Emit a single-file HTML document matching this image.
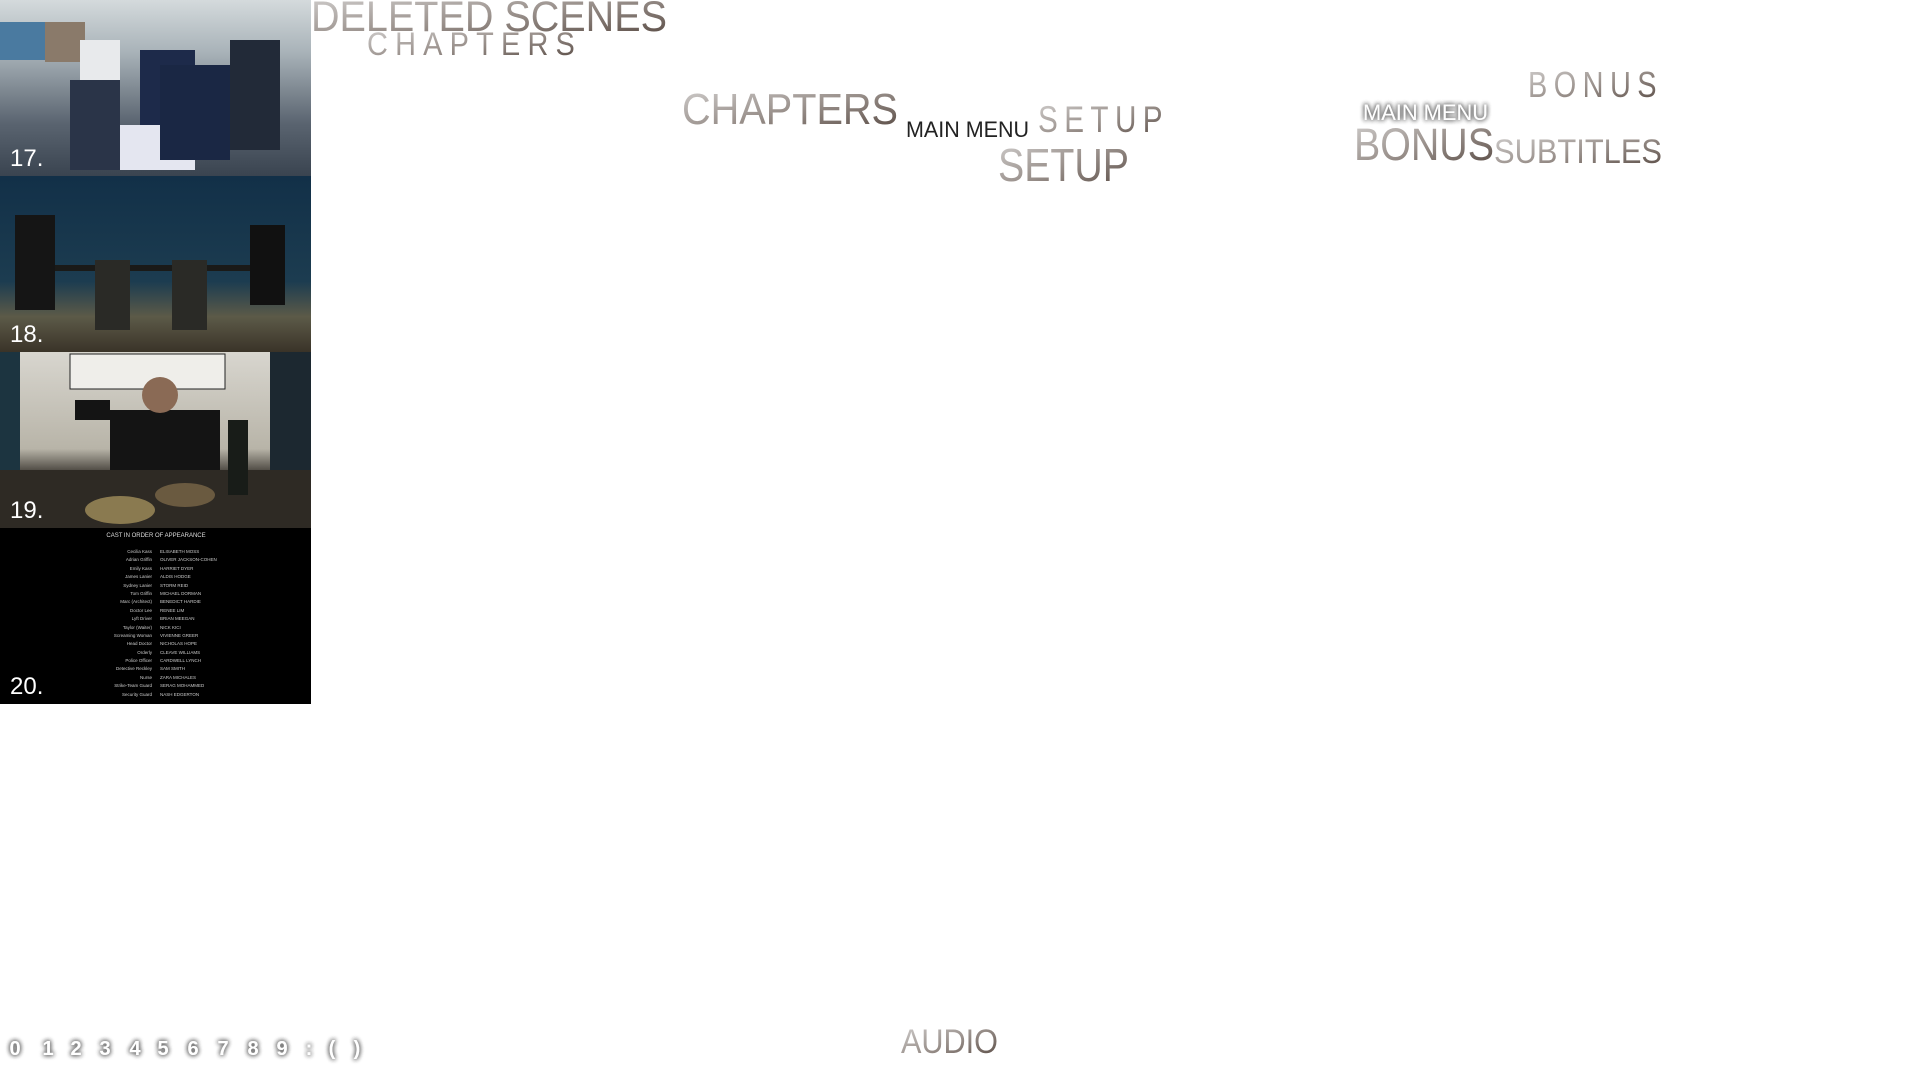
<!DOCTYPE html>
<html><head><meta charset="utf-8"><style>
html,body{margin:0;padding:0;background:#fff;width:1919px;height:1079px;overflow:hidden}
svg{position:absolute;left:0;top:0}
text{font-family:"Liberation Sans",sans-serif}
</style></head><body>
<svg width="1919" height="1079" viewBox="0 0 1919 1079" xmlns="http://www.w3.org/2000/svg">
<defs>
<linearGradient id="g" x1="0" y1="0" x2="1" y2="1">
<stop offset="0" stop-color="#d2d0cf"/><stop offset="0.5" stop-color="#9a918c"/><stop offset="1" stop-color="#54463f"/>
</linearGradient>
<filter id="glow" x="-20%" y="-50%" width="140%" height="200%">
<feGaussianBlur in="SourceAlpha" stdDeviation="2.5" result="b"/>
<feFlood flood-color="#777"/><feComposite in2="b" operator="in" result="s"/>
<feMerge><feMergeNode in="s"/><feMergeNode in="s"/><feMergeNode in="s"/><feMergeNode in="SourceGraphic"/></feMerge>
</filter>
<linearGradient id="p1" x1="0" y1="0" x2="0" y2="1"><stop offset="0" stop-color="#d4dadc"/><stop offset="0.3" stop-color="#a8b2b8"/><stop offset="0.7" stop-color="#5a6470"/><stop offset="1" stop-color="#3a4450"/></linearGradient>
<linearGradient id="p2" x1="0" y1="0" x2="0" y2="1"><stop offset="0" stop-color="#123048"/><stop offset="0.6" stop-color="#1c3c50"/><stop offset="0.8" stop-color="#5c5a48"/><stop offset="1" stop-color="#3a3328"/></linearGradient>
<linearGradient id="p3" x1="0" y1="0" x2="0" y2="1"><stop offset="0" stop-color="#d8d6cf"/><stop offset="0.55" stop-color="#b8b4a8"/><stop offset="0.7" stop-color="#3a3630"/><stop offset="1" stop-color="#2a2620"/></linearGradient>
</defs>
<rect x="0" y="0" width="311" height="176" fill="url(#p1)"/>
<rect x="0" y="22" width="45" height="38" fill="#4a7aa0"/>
<rect x="45" y="22" width="40" height="40" fill="#8a7a6a"/>
<rect x="80" y="40" width="40" height="40" fill="#e8eaec"/>
<rect x="70" y="80" width="50" height="90" fill="#2a3448"/>
<rect x="140" y="50" width="55" height="75" fill="#1d2a4a"/>
<rect x="120" y="125" width="75" height="45" fill="#e4e6f0"/>
<rect x="160" y="65" width="70" height="95" fill="#1a2744"/>
<rect x="230" y="40" width="50" height="110" fill="#222a38"/>
<rect x="0" y="176" width="311" height="176" fill="url(#p2)"/>
<rect x="40" y="265" width="240" height="6" fill="#1a1a18"/>
<rect x="15" y="215" width="40" height="95" fill="#151515"/>
<rect x="250" y="225" width="35" height="80" fill="#111"/>
<rect x="95" y="260" width="35" height="70" fill="#2a2a26"/>
<rect x="172" y="260" width="35" height="70" fill="#2a2a26"/>
<rect x="0" y="352" width="311" height="176" fill="url(#p3)"/>
<rect x="70" y="354" width="155" height="35" fill="#efeeea" stroke="#222" stroke-width="1"/>
<rect x="0" y="352" width="20" height="130" fill="#1c3440"/>
<rect x="270" y="352" width="41" height="150" fill="#1c2830"/>
<rect x="110" y="410" width="110" height="80" fill="#141414"/>
<circle cx="160" cy="395" r="18" fill="#8a6a55"/>
<rect x="75" y="400" width="35" height="20" fill="#141414"/>
<rect x="0" y="470" width="311" height="58" fill="#2e2a24"/>
<ellipse cx="120" cy="510" rx="35" ry="14" fill="#8a7a50"/>
<ellipse cx="185" cy="495" rx="30" ry="12" fill="#6a5a40"/>
<rect x="228" y="420" width="20" height="75" fill="#181c18"/>
<rect x="0" y="528" width="311" height="176" fill="#000"/>
<text x="156" y="537" font-size="6" fill="#ddd" text-anchor="middle">CAST IN ORDER OF APPEARANCE</text>
<g font-size="4.5" fill="#ccc">
<text x="152" y="553" text-anchor="end">Cecilia Kass</text><text x="160" y="553">ELISABETH MOSS</text>
<text x="152" y="561" text-anchor="end">Adrian Griffin</text><text x="160" y="561">OLIVER JACKSON-COHEN</text>
<text x="152" y="570" text-anchor="end">Emily Kass</text><text x="160" y="570">HARRIET DYER</text>
<text x="152" y="578" text-anchor="end">James Lanier</text><text x="160" y="578">ALDIS HODGE</text>
<text x="152" y="587" text-anchor="end">Sydney Lanier</text><text x="160" y="587">STORM REID</text>
<text x="152" y="595" text-anchor="end">Tom Griffin</text><text x="160" y="595">MICHAEL DORMAN</text>
<text x="152" y="603" text-anchor="end">Marc (Architect)</text><text x="160" y="603">BENEDICT HARDIE</text>
<text x="152" y="612" text-anchor="end">Doctor Lee</text><text x="160" y="612">RENEE LIM</text>
<text x="152" y="620" text-anchor="end">Lyft Driver</text><text x="160" y="620">BRIAN MEEGAN</text>
<text x="152" y="629" text-anchor="end">Taylor (Waiter)</text><text x="160" y="629">NICK KICI</text>
<text x="152" y="637" text-anchor="end">Screaming Woman</text><text x="160" y="637">VIVIENNE GREER</text>
<text x="152" y="645" text-anchor="end">Head Doctor</text><text x="160" y="645">NICHOLAS HOPE</text>
<text x="152" y="654" text-anchor="end">Orderly</text><text x="160" y="654">CLEAVE WILLIAMS</text>
<text x="152" y="662" text-anchor="end">Police Officer</text><text x="160" y="662">CARDWELL LYNCH</text>
<text x="152" y="670" text-anchor="end">Detective Reckley</text><text x="160" y="670">SAM SMITH</text>
<text x="152" y="679" text-anchor="end">Nurse</text><text x="160" y="679">ZARA MICHALES</text>
<text x="152" y="687" text-anchor="end">Strike-Team Guard</text><text x="160" y="687">SERAG MOHAMMED</text>
<text x="152" y="696" text-anchor="end">Security Guard</text><text x="160" y="696">NASH EDGERTON</text>
</g>
<g font-size="24" fill="#fff">
<text x="10" y="166">17.</text><text x="10" y="342">18.</text><text x="10" y="518">19.</text><text x="10" y="694">20.</text>
</g>
<g fill="url(#g)">
<text x="311" y="31" font-size="43" textLength="356" lengthAdjust="spacingAndGlyphs">DELETED SCENES</text>
<text x="367" y="55" font-size="32" textLength="215" lengthAdjust="spacingAndGlyphs" letter-spacing="8">CHAPTERS</text>
<text x="682" y="124" font-size="44" textLength="216" lengthAdjust="spacingAndGlyphs">CHAPTERS</text>
<text x="1038" y="132" font-size="37" textLength="131" lengthAdjust="spacingAndGlyphs" letter-spacing="8">SETUP</text>
<text x="998" y="181" font-size="46" textLength="131" lengthAdjust="spacingAndGlyphs">SETUP</text>
<text x="1528" y="97" font-size="36" textLength="135" lengthAdjust="spacingAndGlyphs" letter-spacing="8">BONUS</text>
<text x="1354" y="160" font-size="45" textLength="140" lengthAdjust="spacingAndGlyphs">BONUS</text>
<text x="1494" y="163" font-size="34" textLength="168" lengthAdjust="spacingAndGlyphs">SUBTITLES</text>
<text x="901" y="1053" font-size="34" textLength="97" lengthAdjust="spacingAndGlyphs">AUDIO</text>
</g>
<text x="906" y="137" font-size="22" fill="#222" textLength="123" lengthAdjust="spacingAndGlyphs">MAIN MENU</text>
<text x="1363" y="120" font-size="22" fill="#fff" filter="url(#glow)" textLength="125" lengthAdjust="spacingAndGlyphs">MAIN MENU</text>
<g font-size="20" font-weight="bold" fill="#fff" text-anchor="middle" filter="url(#glow)">
<text x="15" y="1055">0</text><text x="48" y="1055">1</text><text x="76" y="1055">2</text><text x="105" y="1055">3</text><text x="135" y="1055">4</text><text x="163" y="1055">5</text><text x="193" y="1055">6</text><text x="223" y="1055">7</text><text x="253" y="1055">8</text><text x="282" y="1055">9</text><text x="309" y="1055">:</text><text x="332" y="1055">(</text><text x="357" y="1055">)</text>
</g>
</svg>
</body></html>
